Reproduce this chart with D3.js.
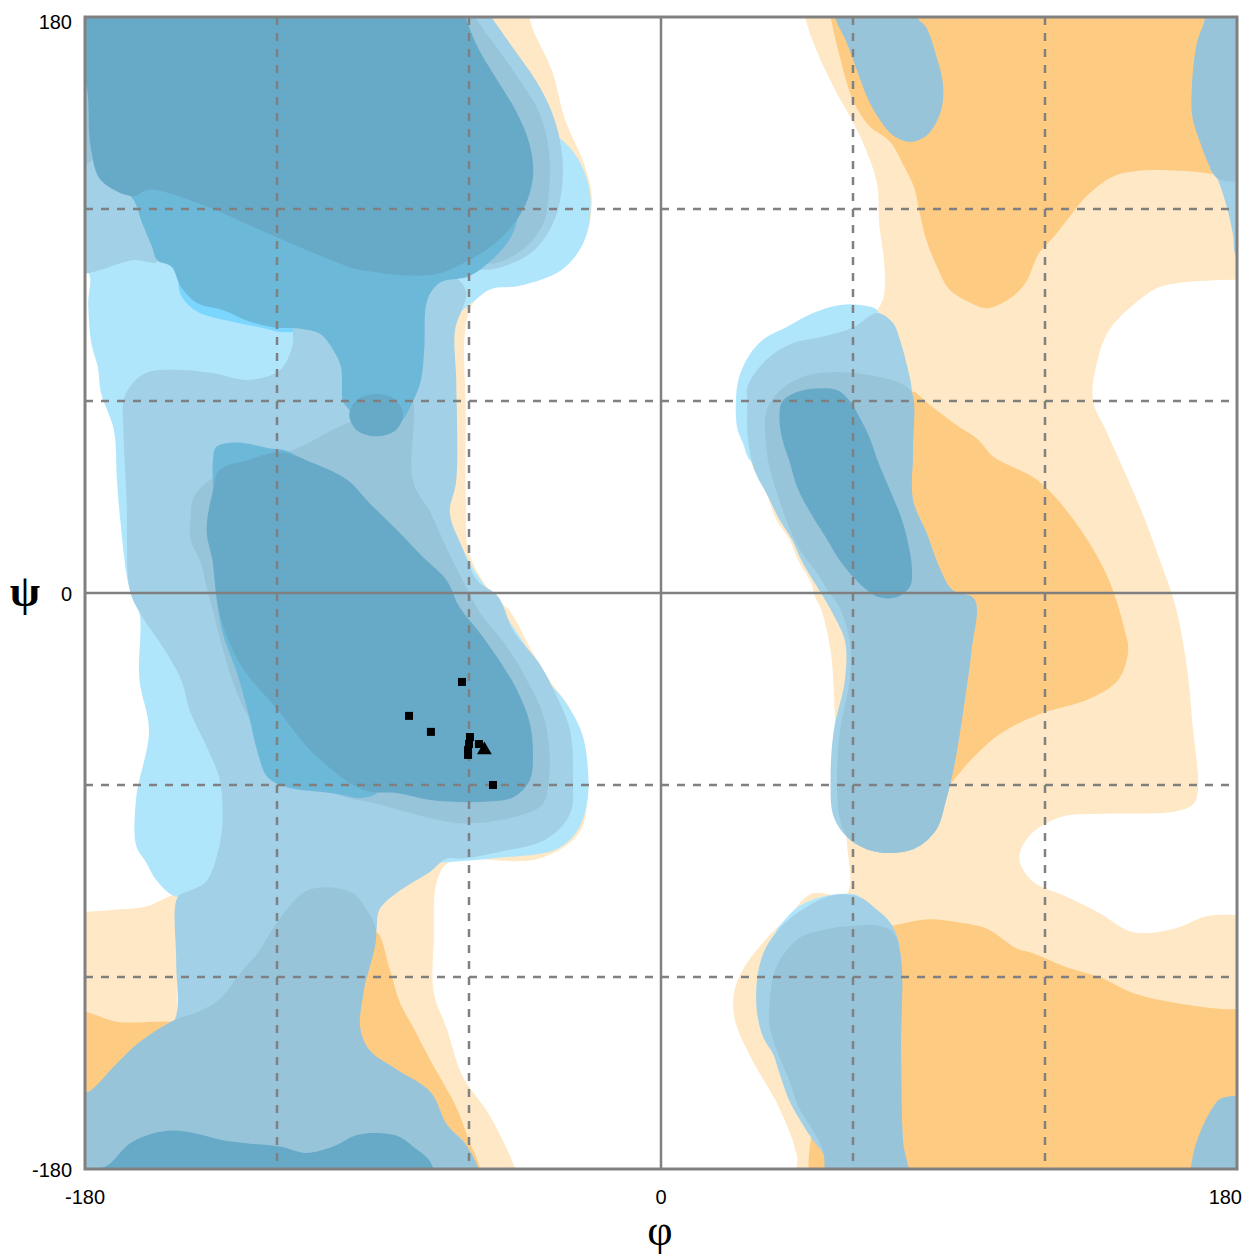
<!DOCTYPE html>
<html>
<head>
<meta charset="utf-8">
<title>ramachandran</title>
<script src="https://d3js.org/d3.v7.min.js"></script>
<style>
  body { margin: 0; background: #fff; }
  .tick-label { font-family: "Liberation Sans", Arial, sans-serif; font-size: 20px; fill: #000; }
  .axis-title { font-family: "Liberation Serif", "DejaVu Serif", serif; font-size: 44px; fill: #000; }
</style>
</head>
<body>
<script>
const width = 1248;
const height = 1256;
const plot = {left: 85, top: 17, size: 1152};

// tick labels and grid positions (degrees)
const phiTicks = [-180, 0, 180];
const psiTicks = [-180, 0, 180];
const dashedGrid = [-120, -60, 60, 120];
const solidGrid = [0];

// residues: [phi, psi]
const squares = [[-62.2, -27.8], [-78.75, -38.4], [-71.9, -43.4], [-59.7, -45], [-60, -47.2],
  [-60.3, -49.1], [-60.3, -50.6], [-56.9, -47.2], [-52.5, -60]];
const triangles = [[-55.2, -48.75]];

// contour regions, [phi, psi] vertices, painted in this order
const orangeLight = [
  [[44,186],[45,180],[48,171],[54,158],[59,149],[63,141],[67.5,128],[68,118],[68,89],[43,82],[31,67],[26,48],[29,39],[33,31],[36,23],[40,17],[43,10],[47,3],[48,-1],[50,-5],[53,-18],[55,-49],[58,-77],[58,-94],[47,-94],[40,-101],[33,-108],[26,-117],[23,-124],[23,-133],[28,-145],[37,-161],[42.5,-176],[43,-186],[186,-186],[186,-100.6],[180,-100.6],[170.6,-101],[160,-105],[147.5,-106],[137,-100],[127,-95],[116,-90],[112,-83],[115,-76],[125,-70],[137,-69],[162,-68],[167,-65],[166,-40],[164,-21],[161,-5],[156,10],[150,26],[143,42],[139,51],[135,60],[136,71],[140,82],[150,92],[157,96],[180,98],[186,98],[186,186]],
  [[-186,-99.7],[-180,-99.7],[-171,-99],[-161,-98],[-154,-95],[-151,-94],[-151,-132],[-144,-158],[-144,-186],[-186,-186]],
  [[-39,186],[-41,180],[-34,163],[-30,148],[-24,134],[-21.6,123],[-25,109],[-41,101],[-53,96],[-60,88],[-61,54],[-61,29],[-60,12.5],[-53,0],[-47,-6],[-41,-17],[-35,-27],[-28,-37],[-24,-52],[-25,-74],[-38,-83],[-66,-84],[-70,-90],[-71,-108],[-71,-125],[-67,-136],[-62,-151],[-54,-162.5],[-49,-172],[-45.6,-180],[-44,-186],[-95,-186],[-95,-100],[-75,0],[-75,100],[-80,186]]
];
const orangeDark = [
  [[52,186],[53,180],[56,167],[60,154],[65,146],[71.6,141],[75.6,134],[79,127],[81,118],[83,110],[86,102.5],[90,95],[96,91],[102,89],[109,92],[114,97],[118,106],[122.5,111],[128,118],[133,124],[141,130],[150,132],[167.5,131.6],[172.5,131],[180,131],[186,131],[186,186]],
  [[78,63],[85,58],[93,52],[99,48],[104,42.5],[118,35],[131,20],[140,4],[145,-12],[146,-18],[143,-27],[134,-33],[118,-38],[106,-44],[97,-52],[90,-60],[86,-63],[84,-33],[79,10],[76,54]],
  [[72,-104],[83,-102],[93,-103],[102,-105],[111,-111],[116,-112.5],[127,-117],[137,-120],[147.5,-125],[160,-128],[175,-130],[180,-130],[186,-130],[186,-186],[49,-186],[47,-168],[51,-143],[59,-115],[65,-105]],
  [[-186,-130.5],[-179.4,-131],[-170,-134],[-153,-134],[-149,-135],[-160,-152],[-175,-165],[-186,-170]],
  [[-89,-106],[-84.7,-117.8],[-81.6,-128],[-77.5,-135.6],[-71,-148],[-64,-160.6],[-59.7,-171.9],[-56.6,-179.4],[-56,-186],[-66,-186],[-72,-175],[-85,-160],[-95,-150],[-97,-136],[-96,-115]]
];
const skyLight = [
  [[-186,110],[-186,100],[-179,100],[-179,90],[-178,78],[-176,70.6],[-175,62.5],[-171,51],[-170,35],[-169,23],[-166,1],[-163,-6],[-163,-27],[-160,-43],[-164,-64],[-164,-79],[-161,-84],[-157.5,-90],[-151,-95],[-138,-90],[-53,-83],[-32.5,-80],[-26,-74],[-23,-65],[-23,-53],[-25,-43],[-31,-32.5],[-36,-27],[-40,-20],[-50,-5],[-60,10],[-68,29],[-67,82],[-58,91.6],[-53,95],[-44,96],[-31,101],[-24,110],[-22,123],[-25,134],[-31,141.6],[-38,144.7],[-66,123],[-144,110]],
  [[23.75,64.4],[23.75,51.9],[25.6,46.9],[27.8,41.6],[34,38],[53,60],[68,82],[67.5,88.4],[62,90],[56,90],[47.5,87.5],[39,83],[33,80],[28.75,76],[25.6,70.6]],
  [[38,-103],[43,-98],[50,-95],[57.5,-94],[62,-95],[59,-105],[40,-115],[36,-106]]
];
const skyBright = [
  [[-160,107],[-152,103],[-150,93],[-145,88],[-135,85],[-125,83],[-118,81.5],[-114,82],[-118,86],[-130,95],[-150,105]]
];
const blue1 = [
  [[-61,94.7],[-69,101],[-113,107],[-115,81],[-115,78],[-119,69.7],[-129,66.6],[-140,68.75],[-150,69.7],[-161,68.75],[-166,64.4],[-168,60],[-168,51],[-167,29],[-166,1],[-163,-6],[-155.6,-17],[-150,-27],[-147,-37.5],[-142,-48],[-138,-58],[-137,-69],[-138,-79],[-142,-90],[-147,-93],[-151,-95],[-151.5,-115],[-151.5,-132],[-156,-140],[-166,-146],[-175,-154],[-186,-160],[-186,-186],[-59,-186],[-60.6,-173],[-67,-166],[-72,-156],[-82.5,-149],[-91,-143],[-94,-136],[-93,-125],[-89,-106],[-88,-99],[-81.6,-93],[-72,-87],[-67,-83],[-62,-83],[-51,-81],[-36,-77],[-28.4,-69],[-27.5,-58],[-28.4,-43],[-32.5,-32.5],[-38,-22],[-46,-12],[-51,-1],[-57.5,4],[-62,14],[-66,25],[-64,35],[-64,66.6],[-64.4,82]],
  [[-186,186],[-177,186],[-177.5,170],[-178,150],[-176,135],[-170,127],[-165,123],[-162,115],[-159,108],[-157.5,103.4],[-165,104],[-175,101],[-179,100],[-186,100]],
  [[-57,186],[-53,180],[-46,170],[-39,160],[-34,150],[-31,138],[-31,126],[-34,115],[-41,106],[-55,101],[-64,104],[-64,186]],
  [[27,64.4],[33,73],[41,78],[50,80],[60,83],[67.5,87.5],[72.5,84.4],[74.7,79],[77,70.6],[78.4,63.4],[78.75,44.7],[78.75,29],[83,18.75],[87,8],[91,1],[98,-2],[97,-18],[95,-33],[92,-52],[89,-65],[86,-74],[79,-80],[68,-81],[59,-77],[54,-70],[53,-58],[54,-43],[57.5,-27],[57.5,-15],[54,-7],[50,0],[47.5,4],[44,10],[41,16.6],[37,23],[33,31],[29,39],[27,50],[27,60]],
  [[54,-94.4],[62,-95],[67.5,-99],[71.6,-103],[74,-108],[75,-115],[75,-143],[75.6,-171],[77,-186],[52,-186],[51,-176],[47.5,-171],[44,-165.6],[40,-158.4],[37,-150],[35,-144],[32,-139],[30,-131],[30,-121],[32,-112.5],[36,-106],[43,-99.7]],
  [[173.75,129.7],[177,120],[178.75,112],[180,105],[186,105],[186,140],[171.6,133]]
];
const blue2 = [
  [[-147,23],[-146,30],[-140,36],[-128,41.6],[-115,44.7],[-102.5,51],[-92,56],[-80,64],[-77.5,60],[-77.5,35],[-72,25],[-67,14],[-62,4],[-56.6,-6],[-48,-17],[-42,-27],[-37,-37.5],[-35,-48],[-35,-58],[-37,-66],[-46,-70],[-62,-72],[-77.5,-69],[-88,-66],[-103,-62],[-128,-40],[-141,-2],[-144,10],[-147,16.6]],
  [[-186,-158],[-179,-156],[-171,-148],[-165,-142],[-159,-137.5],[-151,-133],[-145,-131],[-138,-127],[-131.6,-119],[-126,-112.5],[-122,-106],[-117,-99],[-110.6,-93],[-103,-92],[-96,-94],[-92,-99],[-89,-106],[-93,-125],[-94,-136],[-91,-143],[-82.5,-149],[-72,-156],[-67,-166],[-60.6,-173],[-57,-180],[-56,-186],[-186,-186]],
  [[-186,186],[-178,186],[-178.5,170],[-179,150],[-178,135],[-186,135]],
  [[-60,186],[-58,180],[-51,170],[-44,160],[-38,150],[-35,138],[-35,126],[-37,115],[-45,106],[-56,103],[-65,110],[-66,186]],
  [[33,57],[38,64],[45.6,68],[56,69],[66,68],[74.7,65.6],[78.4,62.5],[78.75,44.7],[78.75,29],[83,18.75],[87,8],[91,1],[98,-2],[97,-18],[95,-33],[92,-52],[89,-65],[86,-74],[79,-80],[68,-81],[59,-77],[56,-71],[55,-58],[56,-43],[59,-27],[59,-15],[56,-5],[52,1],[49,6],[44,12.5],[40,20.6],[37,29],[34,39],[33,44.7]],
  [[43,-108],[52,-105],[60,-104],[68,-104],[72.5,-106],[75,-114],[75,-143],[75.6,-171],[77,-186],[53,-186],[50.6,-174],[47.5,-168],[43,-160.6],[40,-152],[37,-145],[34,-135.6],[34,-127],[36,-117]],
  [[54,186],[54.4,180],[58,172],[61,164],[64.4,155],[68,148.4],[72.5,143],[78,141],[83,143],[86,147],[88,153],[88,160],[86,168],[83,176.6],[80,180],[79,186]],
  [[169,186],[170,180],[167.5,172],[166,160],[166,149],[168.4,141],[171.6,133],[173.75,129.7],[180,128.4],[186,128],[186,186]],
  [[186,-157],[180,-157],[175,-158],[172.5,-160.6],[168.4,-168.75],[166,-177],[166,-186],[186,-186]]
];
const blue3 = [
  [[-139,45.6],[-132.5,47],[-123,45.3],[-116,44],[-97,29],[-81.6,-2],[-88,-61.6],[-93,-64],[-103,-62.5],[-117,-60.6],[-123,-57.5],[-126,-50],[-129,-37.5],[-132.5,-25],[-137,-12.5],[-139,0],[-140,9.4],[-140,32],[-140,41.6]],
  [[-176,186],[-176,150],[-170,128],[-165,123],[-162,115],[-159,108],[-157.5,104],[-153,102],[-150,95.6],[-145,90.6],[-137,88.4],[-129,85],[-121,83],[-117,82.8],[-115,82.8],[-106.6,81],[-102.5,76],[-100,70.6],[-99.4,60],[-98,58],[-93,52],[-88,49.4],[-81.6,53],[-77.5,60],[-75,66.6],[-74,76],[-73,91.6],[-69,97],[-60,99],[-53,104],[-47,111],[-44,120],[-42,130],[-43,140],[-47,150],[-53,160],[-58,170],[-62,180],[-63,186]]
];
const blue4 = [
  [[-119,44],[-108.75,40.6],[-98,35.3],[-91,28],[-82.5,19.7],[-74.4,11.25],[-67,4],[-63,-4.4],[-56.6,-12.5],[-50,-21.9],[-45,-30.3],[-41,-40.6],[-40,-51],[-41,-58.4],[-46,-63.75],[-56.6,-65.3],[-72,-64.7],[-82.5,-62.5],[-93,-61.6],[-108.75,-50],[-119,-37.5],[-131.6,-22],[-138,-6.25],[-140,9.4],[-142,19.7],[-140,32],[-138,38.4],[-129,41.6]],
  [[-89,62.2],[-83,60.4],[-80.6,55.6],[-83,50.8],[-89,49],[-95,50.8],[-97.4,55.6],[-95,60.4]],
  [[-179,186],[-179,154],[-178,138],[-175,129],[-165,124],[-160,126],[-144,121.6],[-122,112],[-103,104],[-94,101],[-72,99.4],[-62,103],[-51,110],[-43,120],[-40,130],[-41,140],[-45,150],[-51,160],[-57,170],[-61,180],[-62,186]],
  [[-186,-186],[-186,-180],[-174,-179.4],[-166,-172],[-159,-169],[-152.5,-168],[-145,-169],[-137,-171],[-129,-172],[-119,-173],[-111,-175],[-102.5,-173],[-95,-169.4],[-88,-168.75],[-81.6,-170],[-77.5,-173],[-72,-178],[-71,-186]],
  [[38,60],[43,63],[50,64],[55,63.4],[59,60],[62,55],[65,49],[68,40.6],[71.6,32],[75,23.75],[77,16.6],[78.4,8],[77.8,2],[73.75,-1.25],[68,-1.25],[62,3],[56,10],[52,16.6],[47.5,23.75],[43,32],[40,41.6],[38,47.8],[37,55]]
];

const layers = [
  {regions: orangeLight, color: "#fee8c5"},
  {regions: orangeDark, color: "#fecb82"},
  {regions: skyLight, color: "#b0e6fc"},
  {regions: skyBright, color: "#7ad6fe"},
  {regions: blue1, color: "#a2d0e6"},
  {regions: blue2, color: "#98c4da"},
  {regions: blue3, color: "#6cb8d8"},
  {regions: blue4, color: "#66aac8"}
];

const x = d3.scaleLinear().domain([-180, 180]).range([plot.left, plot.left + plot.size]);
const y = d3.scaleLinear().domain([-180, 180]).range([plot.top + plot.size, plot.top]);

const svg = d3.select("body").append("svg")
    .attr("width", width)
    .attr("height", height);

svg.append("clipPath")
    .attr("id", "plot-clip")
  .append("rect")
    .attr("x", x(-180))
    .attr("y", y(180))
    .attr("width", x(180) - x(-180))
    .attr("height", y(-180) - y(180));

const area = d3.line()
    .x(d => x(d[0]))
    .y(d => y(d[1]))
    .curve(d3.curveCatmullRomClosed.alpha(0.5));

const contours = svg.append("g").attr("clip-path", "url(#plot-clip)");

layers.forEach(function(layer) {
  contours.append("g")
    .selectAll("path")
    .data(layer.regions)
    .enter()
    .append("path")
      .attr("d", area)
      .attr("fill", layer.color);
});

// grid
const grid = svg.append("g");
grid.selectAll("line.vdash").data(dashedGrid).enter().append("line")
    .attr("x1", d => x(d)).attr("x2", d => x(d))
    .attr("y1", y(180)).attr("y2", y(-180))
    .attr("stroke", "#808080").attr("stroke-width", 2.5).attr("stroke-dasharray", "8,8");
grid.selectAll("line.hdash").data(dashedGrid).enter().append("line")
    .attr("y1", d => y(d)).attr("y2", d => y(d))
    .attr("x1", x(-180)).attr("x2", x(180))
    .attr("stroke", "#808080").attr("stroke-width", 2.5).attr("stroke-dasharray", "8,8");
grid.selectAll("line.vsolid").data(solidGrid).enter().append("line")
    .attr("x1", d => x(d)).attr("x2", d => x(d))
    .attr("y1", y(180)).attr("y2", y(-180))
    .attr("stroke", "#808080").attr("stroke-width", 2.5);
grid.selectAll("line.hsolid").data(solidGrid).enter().append("line")
    .attr("y1", d => y(d)).attr("y2", d => y(d))
    .attr("x1", x(-180)).attr("x2", x(180))
    .attr("stroke", "#808080").attr("stroke-width", 2.5);

svg.append("rect")
    .attr("x", x(-180)).attr("y", y(180))
    .attr("width", x(180) - x(-180)).attr("height", y(-180) - y(180))
    .attr("fill", "none").attr("stroke", "#808080").attr("stroke-width", 3);

// residues
svg.append("g").selectAll("rect")
  .data(squares)
  .enter()
  .append("rect")
    .attr("x", d => x(d[0]) - 4)
    .attr("y", d => y(d[1]) - 4)
    .attr("width", 8)
    .attr("height", 8)
    .attr("fill", "#000");

svg.append("g").selectAll("path")
  .data(triangles)
  .enter()
  .append("path")
    .attr("transform", d => "translate(" + x(d[0]) + "," + (y(d[1]) + 1) + ")")
    .attr("d", d3.symbol(d3.symbolTriangle, 95))
    .attr("fill", "#000");

// tick labels
svg.append("g").selectAll("text")
  .data(psiTicks)
  .enter()
  .append("text")
    .classed("tick-label", true)
    .attr("x", 72)
    .attr("y", d => y(d) + (d === 180 ? 12 : 8))
    .attr("text-anchor", "end")
    .text(d => d);

svg.append("g").selectAll("text")
  .data(phiTicks)
  .enter()
  .append("text")
    .classed("tick-label", true)
    .attr("x", d => d === 180 ? x(d) + 5 : x(d))
    .attr("y", 1204)
    .attr("text-anchor", d => d === 180 ? "end" : "middle")
    .text(d => d);

svg.append("text")
    .classed("axis-title", true)
    .attr("x", 25)
    .attr("y", 606)
    .attr("text-anchor", "middle")
    .style("font-weight", "bold")
    .text("ψ");

svg.append("text")
    .classed("axis-title", true)
    .attr("x", 660)
    .attr("y", 1245)
    .attr("text-anchor", "middle")
    .text("φ");
</script>
</body>
</html>
